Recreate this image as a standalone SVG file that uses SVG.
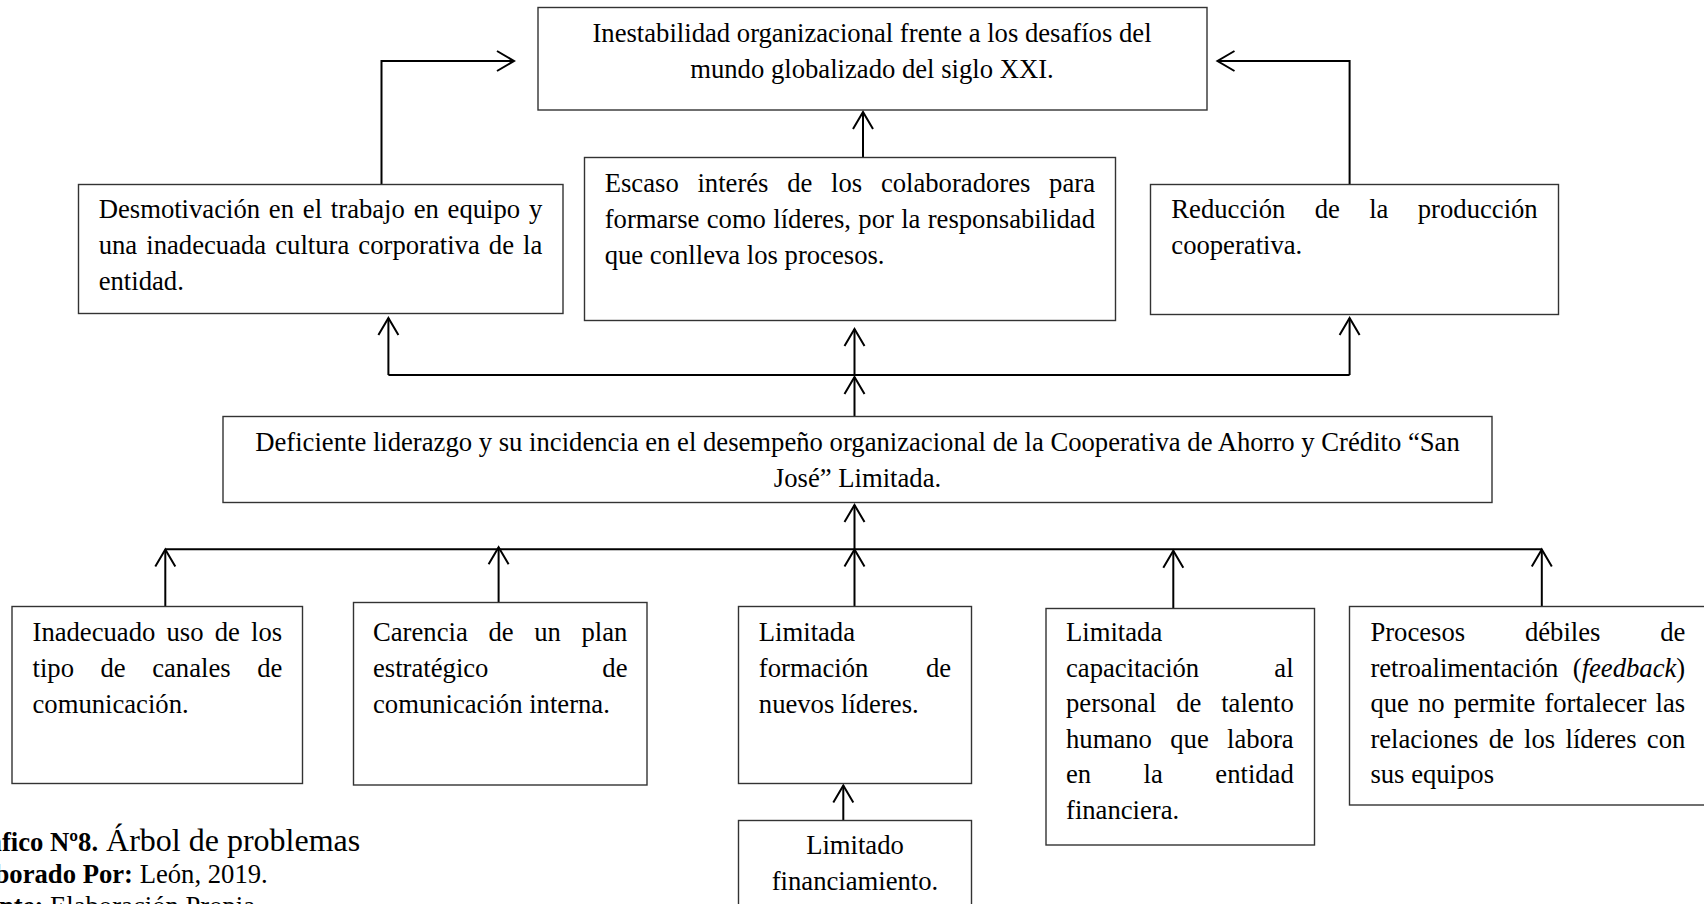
<svg xmlns="http://www.w3.org/2000/svg" width="1704" height="904" viewBox="0 0 1704 904">
<style>
.box{fill:#fff;stroke:#333;stroke-width:1.4}
.t{font-family:"Liberation Serif","Times New Roman",serif;font-size:26.67px;fill:#000}
.c{text-anchor:middle}
.b{font-weight:bold}
.i{font-style:italic}
.conn{fill:none;stroke:#000;stroke-width:2}
</style>
<defs>
<marker id="arr" markerUnits="userSpaceOnUse" markerWidth="40" markerHeight="40" viewBox="-20 -20 40 40" refX="0" refY="0" orient="auto" overflow="visible">
<path d="M-17,-10 L0,0 L-17,10" fill="none" stroke="#000" stroke-width="2"/>
</marker>
</defs>
<rect width="1704" height="904" fill="#fff"/>

<g id="connectors">
<path class="conn" d="M381.5,184.3 V61 H514" marker-end="url(#arr)"/>
<path class="conn" d="M1349.6,184.3 V61 H1217.5" marker-end="url(#arr)"/>
<path class="conn" d="M863,157.3 V112" marker-end="url(#arr)"/>
<path class="conn" d="M388.4,375 H1349.6"/>
<path class="conn" d="M388.4,375 V318" marker-end="url(#arr)"/>
<path class="conn" d="M1349.6,375 V318" marker-end="url(#arr)"/>
<path class="conn" d="M854.5,375 V329" marker-end="url(#arr)"/>
<path class="conn" d="M854.5,416.7 V377" marker-end="url(#arr)"/>
<path class="conn" d="M165.3,549.3 H1541.8"/>
<path class="conn" d="M854.5,549.3 V505" marker-end="url(#arr)"/>
<path class="conn" d="M165.3,606.7 V549.5" marker-end="url(#arr)"/>
<path class="conn" d="M498.6,602.7 V547.3" marker-end="url(#arr)"/>
<path class="conn" d="M854.5,606.7 V549.5" marker-end="url(#arr)"/>
<path class="conn" d="M1173.3,608.3 V550.7" marker-end="url(#arr)"/>
<path class="conn" d="M1541.8,606.7 V549.5" marker-end="url(#arr)"/>
<path class="conn" d="M843.3,820.7 V785.5" marker-end="url(#arr)"/>
</g>

<g id="efecto-principal">
<rect class="box" x="538" y="7.5" width="669" height="102.5"/>
<text class="t c" x="872" y="42">Inestabilidad organizacional frente a los desafíos del</text>
<text class="t c" x="872" y="78">mundo globalizado del siglo XXI.</text>
</g>

<g id="efecto-1">
<rect class="box" x="78.5" y="184.5" width="484.5" height="129"/>
<text class="t" x="98.7" y="218" word-spacing="2.13">Desmotivación en el trabajo en equipo y</text>
<text class="t" x="98.7" y="254" word-spacing="2.43">una inadecuada cultura corporativa de la</text>
<text class="t" x="98.7" y="290">entidad.</text>
</g>

<g id="efecto-2">
<rect class="box" x="584.5" y="157.5" width="531" height="163"/>
<text class="t" x="604.7" y="192" word-spacing="12.05">Escaso interés de los colaboradores para</text>
<text class="t" x="604.7" y="228" word-spacing="0.65">formarse como líderes, por la responsabilidad</text>
<text class="t" x="604.7" y="264">que conlleva los procesos.</text>
</g>

<g id="efecto-3">
<rect class="box" x="1150.5" y="184.5" width="408" height="130"/>
<text class="t" x="1171.3" y="218" word-spacing="22.7">Reducción de la producción</text>
<text class="t" x="1171.3" y="254">cooperativa.</text>
</g>

<g id="problema-central">
<rect class="box" x="223" y="416.5" width="1269" height="86"/>
<text class="t c" x="857.5" y="450.7">Deficiente liderazgo y su incidencia en el desempeño organizacional de la Cooperativa de Ahorro y Crédito “San</text>
<text class="t c" x="857.5" y="486.7">José” Limitada.</text>
</g>

<g id="causa-1">
<rect class="box" x="12" y="606.5" width="290.5" height="177"/>
<text class="t" x="32.5" y="641" word-spacing="4.53">Inadecuado uso de los</text>
<text class="t" x="32.5" y="677" word-spacing="19.86">tipo de canales de</text>
<text class="t" x="32.5" y="713">comunicación.</text>
</g>

<g id="causa-2">
<rect class="box" x="353.5" y="602.5" width="293.5" height="182.5"/>
<text class="t" x="373" y="641" word-spacing="14.0">Carencia de un plan</text>
<text class="t" x="373" y="677" word-spacing="107.2">estratégico de</text>
<text class="t" x="373" y="713">comunicación interna.</text>
</g>

<g id="causa-3">
<rect class="box" x="738.5" y="606.5" width="233" height="177"/>
<text class="t" x="758.8" y="641">Limitada</text>
<text class="t" x="758.8" y="677" word-spacing="51.0">formación de</text>
<text class="t" x="758.8" y="713">nuevos líderes.</text>
</g>

<g id="subcausa-3">
<rect class="box" x="738.5" y="820.5" width="233" height="100"/>
<text class="t c" x="855" y="854">Limitado</text>
<text class="t c" x="855" y="890">financiamiento.</text>
</g>

<g id="causa-4">
<rect class="box" x="1046" y="608.5" width="268.5" height="236.5"/>
<text class="t" x="1066" y="641">Limitada</text>
<text class="t" x="1066" y="676.5" word-spacing="68.5">capacitación al</text>
<text class="t" x="1066" y="712" word-spacing="13.2">personal de talento</text>
<text class="t" x="1066" y="747.5" word-spacing="11.7">humano que labora</text>
<text class="t" x="1066" y="783" word-spacing="45.8">en la entidad</text>
<text class="t" x="1066" y="818.5">financiera.</text>
</g>

<g id="causa-5">
<rect class="box" x="1349.5" y="606.5" width="400" height="198.5"/>
<text class="t" x="1370.4" y="641" word-spacing="53.1">Procesos débiles de</text>
<text class="t" x="1370.4" y="676.5" word-spacing="7.7">retroalimentación (<tspan class="i">feedback</tspan>)</text>
<text class="t" x="1370.4" y="712" word-spacing="2.48">que no permite fortalecer las</text>
<text class="t" x="1370.4" y="747.5" word-spacing="3.6">relaciones de los líderes con</text>
<text class="t" x="1370.4" y="783">sus equipos</text>
</g>

<g id="caption">
<text class="t" x="-44" y="851"><tspan class="b">Gráfico Nº8.</tspan><tspan font-size="32"> Árbol de problemas</tspan></text>
<text class="t" x="-44" y="883"><tspan class="b">Elaborado Por:</tspan> León, 2019.</text>
<text class="t" x="-44" y="915"><tspan class="b">Fuente:</tspan> Elaboración Propia</text>
</g>
</svg>
